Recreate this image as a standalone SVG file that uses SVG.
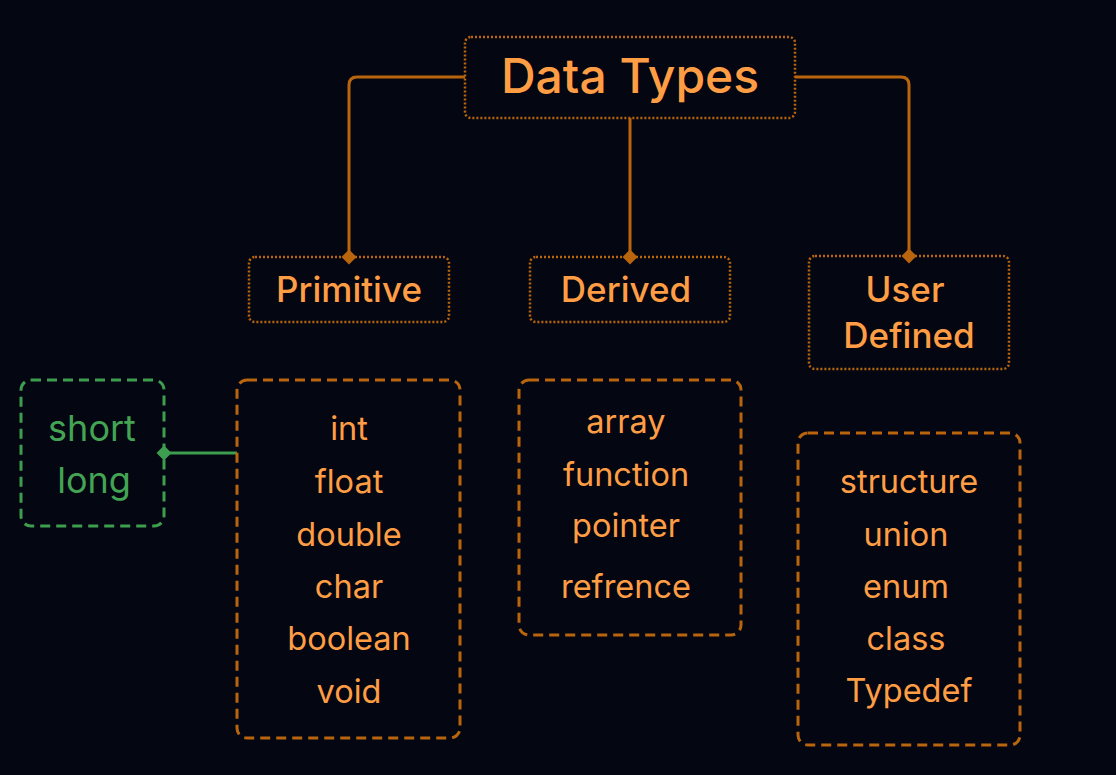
<svg xmlns="http://www.w3.org/2000/svg" width="1116" height="775" viewBox="0 0 1116 775">
<defs>
<style>
.bg{fill:#040711}
.hdr{fill:none;stroke:#b8650e;stroke-width:2.5;stroke-dasharray:2 2}
.lst{fill:none;stroke:#b8650e;stroke-width:3;stroke-dasharray:10 6}
.grn{fill:none;stroke:#3e9e4f;stroke-width:3;stroke-dasharray:10 6}
.t{font-family:Inter,"Noto Sans","Liberation Sans",sans-serif;fill:#ff9d45;text-anchor:middle}
.tg{font-family:Inter,"Noto Sans","Liberation Sans",sans-serif;fill:#43a454;text-anchor:middle;font-size:36px}
.h1{font-size:48px;font-weight:500}
.h2{font-size:35px;font-weight:500}
.it{font-size:32.5px}
.con{fill:none;stroke:#b8650e;stroke-width:3}
.cong{fill:none;stroke:#3e9e4f;stroke-width:3}
</style>
<marker id="dia" viewBox="-8 -8 16 16" markerWidth="16" markerHeight="16" markerUnits="userSpaceOnUse" orient="auto">
<path d="M0,-7.5 L7.5,0 L0,7.5 L-7.5,0 Z" fill="#b8650e"/>
</marker>
<marker id="diag" viewBox="-8 -8 16 16" markerWidth="16" markerHeight="16" markerUnits="userSpaceOnUse" orient="auto">
<path d="M0,-7.5 L7.5,0 L0,7.5 L-7.5,0 Z" fill="#3e9e4f"/>
</marker>
</defs>
<rect class="bg" x="0" y="0" width="1116" height="775"/>
<g id="connectors">
<path class="con" d="M465,77 H357 Q349,77 349,85 V257" marker-end="url(#dia)"/>
<path class="con" d="M630,118 V257" marker-end="url(#dia)"/>
<path class="con" d="M795,77 H901 Q909,77 909,85 V256" marker-end="url(#dia)"/>
<path class="cong" d="M237,453 H164" marker-end="url(#diag)"/>
</g>
<g id="data-types">
<rect class="hdr" x="465" y="37" width="330" height="81" rx="6"/>
<text class="t h1" x="630" y="93">Data Types</text>
</g>
<g id="primitive">
<rect class="hdr" x="249" y="257" width="200" height="65" rx="6"/>
<text class="t h2" x="349" y="302">Primitive</text>
</g>
<g id="derived">
<rect class="hdr" x="530" y="257" width="200" height="65" rx="6"/>
<text class="t h2" x="626" y="302">Derived</text>
</g>
<g id="user-defined">
<rect class="hdr" x="809" y="256" width="200" height="113" rx="6"/>
<text class="t h2" x="905" y="302">User</text>
<text class="t h2" x="909" y="348">Defined</text>
</g>
<g id="short-long">
<rect class="grn" x="21" y="380" width="143" height="146" rx="10"/>
<text class="tg" x="92" y="441">short</text>
<text class="tg" x="94" y="493">long</text>
</g>
<g id="primitive-list">
<rect class="lst" x="237" y="380" width="223" height="358" rx="10"/>
<text class="t it" x="349" y="440">int</text>
<text class="t it" x="349" y="493">float</text>
<text class="t it" x="349" y="546">double</text>
<text class="t it" x="349" y="598">char</text>
<text class="t it" x="349" y="650">boolean</text>
<text class="t it" x="349" y="703">void</text>
</g>
<g id="derived-list">
<rect class="lst" x="519" y="380" width="222" height="255" rx="10"/>
<text class="t it" x="626" y="433">array</text>
<text class="t it" x="626" y="486">function</text>
<text class="t it" x="626" y="537">pointer</text>
<text class="t it" x="626" y="598">refrence</text>
</g>
<g id="user-list">
<rect class="lst" x="798" y="433" width="222" height="312" rx="10"/>
<text class="t it" x="909" y="493">structure</text>
<text class="t it" x="906" y="546">union</text>
<text class="t it" x="906" y="598">enum</text>
<text class="t it" x="906" y="650">class</text>
<text class="t it" x="909" y="702">Typedef</text>
</g>
</svg>
